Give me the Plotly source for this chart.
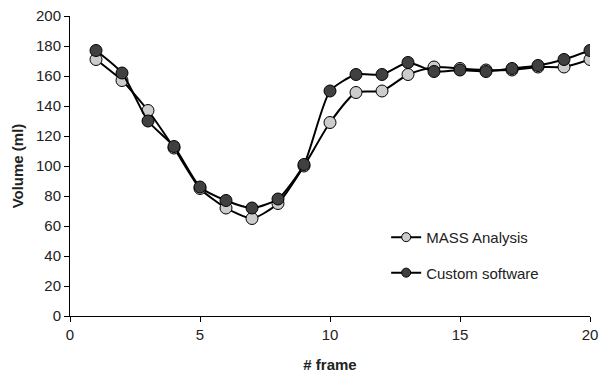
import plotly.graph_objects as go

frames = list(range(1, 21))
mass_analysis = [171, 157, 137, 112, 85, 72, 65, 75, 100, 129, 149, 150, 161, 166, 165, 164, 164, 166, 166, 171]
custom_software = [177, 162, 130, 113, 86, 77, 72, 78, 101, 150, 161, 161, 169, 163, 164, 163, 165, 167, 171, 177]

x_ticks = [0, 5, 10, 15, 20]
y_ticks = list(range(0, 201, 20))

series = [
    ("MASS Analysis", mass_analysis, "#cccccc", "a"),
    ("Custom software", custom_software, "#404040", "b"),
]

fig = go.Figure()
for name, vals, col, grp in series:
    fig.add_trace(go.Scatter(
        x=frames, y=vals, name=name, mode="lines+markers",
        line=dict(color="black", width=2, shape="spline", smoothing=0.6),
        marker=dict(size=12, color=col, line=dict(color="black", width=1)),
        legendgroup=grp, showlegend=False,
    ))
for name, vals, col, grp in series:
    # legend-only entry with a smaller symbol, as in the original
    fig.add_trace(go.Scatter(
        x=[None], y=[None], name=name, mode="lines+markers",
        line=dict(color="black", width=2),
        marker=dict(size=9, color=col, line=dict(color="black", width=1)),
        legendgroup=grp, showlegend=True,
    ))

fig.update_layout(
    width=603, height=373,
    margin=dict(l=70, r=13, t=16, b=57),
    paper_bgcolor="white", plot_bgcolor="white",
    font=dict(family="Liberation Sans, Arial, sans-serif", size=15, color="#222"),
    legend=dict(x=0.608, xanchor="left", y=0.317, yanchor="top",
                bgcolor="rgba(0,0,0,0)", tracegroupgap=13,
                font=dict(size=15)),
    xaxis=dict(range=[0, 20], tickvals=x_ticks, showgrid=False, zeroline=False,
               showline=True, linecolor="black", linewidth=1,
               ticks="outside", ticklen=5, tickcolor="black",
               ticklabeloverflow="allow", automargin=False,
               title=dict(text="<b># frame</b>", font=dict(size=15), standoff=17)),
    yaxis=dict(range=[0, 200], tickvals=y_ticks, showgrid=False, zeroline=False,
               showline=True, linecolor="black", linewidth=1,
               ticks="outside", ticklen=5, tickcolor="black",
               ticklabeloverflow="allow", automargin=False,
               title=dict(text="<b>Volume (ml)</b>", font=dict(size=15), standoff=8)),
)

fig.write_html(
    "out.html",
    config={"displayModeBar": False},
    post_script="document.body.style.margin='0';document.body.style.overflow='hidden';",
)
